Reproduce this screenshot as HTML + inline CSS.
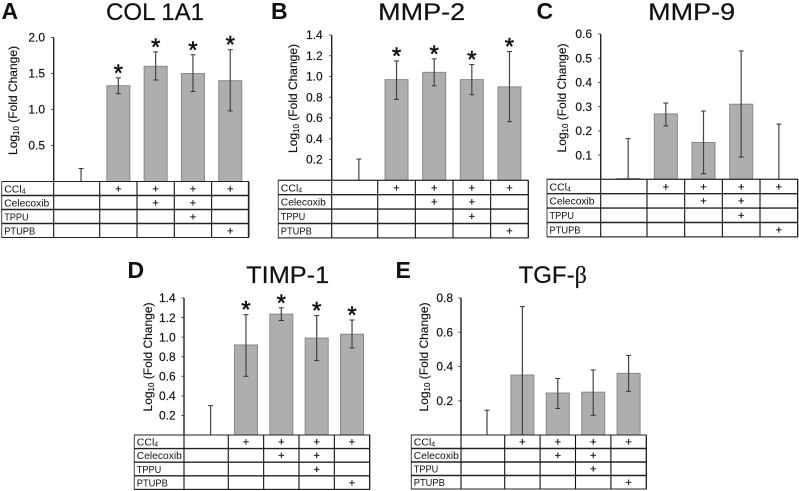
<!DOCTYPE html>
<html lang="en">
<head>
<meta charset="utf-8">
<title>Log10 fold change panels</title>
<style>
html,body{margin:0;padding:0;background:#fff;}
svg{display:block;font-family:"Liberation Sans",Arial,sans-serif;filter:blur(0.3px);}
</style>
</head>
<body>
<svg id="figure" xmlns="http://www.w3.org/2000/svg" width="799" height="491" viewBox="0 0 799 491">
  <rect width="799" height="491" fill="#fff"/>
  <text x="1.5" y="19" font-size="23" font-weight="bold" fill="#111">A</text>
  <text x="271" y="19" font-size="23" font-weight="bold" fill="#111">B</text>
  <text x="536.5" y="19" font-size="23" font-weight="bold" fill="#111">C</text>
  <text x="127.5" y="278" font-size="23" font-weight="bold" fill="#111">D</text>
  <text x="395.5" y="278" font-size="23" font-weight="bold" fill="#111">E</text>
  <g stroke="#111" stroke-width="0.2">
  <text x="155" y="20" font-size="24" text-anchor="middle" textLength="98" lengthAdjust="spacingAndGlyphs" fill="#111">COL 1A1</text>
  <text x="421.7" y="20" font-size="24" text-anchor="middle" textLength="87" lengthAdjust="spacingAndGlyphs" fill="#111">MMP-2</text>
  <text x="691.7" y="20" font-size="24" text-anchor="middle" textLength="87" lengthAdjust="spacingAndGlyphs" fill="#111">MMP-9</text>
  <text x="287.7" y="283" font-size="24" text-anchor="middle" textLength="83" lengthAdjust="spacingAndGlyphs" fill="#111">TIMP-1</text>
  <text x="552.7" y="283" font-size="24" text-anchor="middle" fill="#111">TGF-<tspan font-family="'Liberation Serif',serif">β</tspan></text>
  </g>
</svg>
<script>
// Shared row labels and which treatments each group received
const treatmentRows = ['CCl', 'Celecoxib', 'TPPU', 'PTUPB'];
const ccl4Marks = [false, true, true, true, true];
const celecoxibMarks = [false, false, true, true, false];
const tppuMarks = [false, false, false, true, false];
const ptupbMarks = [false, false, false, false, true];

// Panel A: COL 1A1
const colTicks = ['0.5', '1.0', '1.5', '2.0'];
const colValues = [0, 1.33, 1.6, 1.5, 1.4];
const colUpper = [0.18, 1.44, 1.8, 1.76, 1.83];
const colLower = [0, 1.22, 1.41, 1.25, 0.98];
const colStars = [false, true, true, true, true];

// Panel B: MMP-2
const mmp2Ticks = ['0.2', '0.4', '0.6', '0.8', '1.0', '1.2', '1.4'];
const mmp2Values = [0, 0.97, 1.04, 0.97, 0.9];
const mmp2Upper = [0.205, 1.15, 1.17, 1.115, 1.24];
const mmp2Lower = [0, 0.78, 0.91, 0.825, 0.565];
const mmp2Stars = [false, true, true, true, true];

// Panel C: MMP-9
const mmp9Ticks = ['0.1', '0.2', '0.3', '0.4', '0.5', '0.6'];
const mmp9Values = [0.003, 0.27, 0.152, 0.31, 0];
const mmp9Upper = [0.168, 0.315, 0.282, 0.53, 0.228];
const mmp9Lower = [0, 0.22, 0.023, 0.092, 0];
const mmp9Stars = [false, false, false, false, false];

// Panel D: TIMP-1
const timpTicks = ['0.2', '0.4', '0.6', '0.8', '1.0', '1.2', '1.4'];
const timpValues = [0, 0.92, 1.235, 0.99, 1.03];
const timpUpper = [0.3, 1.23, 1.3, 1.22, 1.175];
const timpLower = [0, 0.6, 1.17, 0.76, 0.89];
const timpStars = [false, true, true, true, true];

// Panel E: TGF-beta
const tgfTicks = ['0.2', '0.4', '0.6', '0.8'];
const tgfValues = [0, 0.35, 0.245, 0.25, 0.36];
const tgfUpper = [0.145, 0.75, 0.33, 0.38, 0.465];
const tgfLower = [0, 0, 0.155, 0.115, 0.255];
const tgfStars = [false, false, false, false, false];

const SVGNS = 'http://www.w3.org/2000/svg';
const figure = document.getElementById('figure');

function make(tag, attrs, parent) {
  const node = document.createElementNS(SVGNS, tag);
  Object.keys(attrs).forEach(function (k) { node.setAttribute(k, attrs[k]); });
  parent.appendChild(node);
  return node;
}

function drawPanel(p) {
  const g = make('g', {}, figure);
  
  

  const maxValue = parseFloat(p.ticks[p.ticks.length - 1]);
  const yScale = function (v) { return p.baseY - (v / maxValue) * (p.baseY - p.topY); };
  const xScale = function (i) { return p.firstCol + p.band * (i - 0.5); };

  // Bars
  p.values.forEach(function (v, i) {
    const bar = make('rect', {
      x: xScale(i) - 11.5, y: yScale(v), width: 23, height: p.baseY - yScale(v),
      fill: '#aeaeae', stroke: '#888', 'stroke-width': 1
    }, g);
    
    
  });

  // Error bars
  p.values.forEach(function (v, i) {
    const cx = xScale(i);
    const stem = make('line', {
      x1: cx, x2: cx, y1: yScale(p.upper[i]), y2: yScale(p.lower[i]),
      stroke: '#444', 'stroke-width': 1.2
    }, g);
    
    
    [p.upper[i], p.lower[i]].forEach(function (e) {
      const cap = make('line', {
        x1: cx - 2.5, x2: cx + 2.5, y1: yScale(e), y2: yScale(e),
        stroke: '#333', 'stroke-width': 1
      }, g);
      
      
    });
    if (p.stars[i]) {
      const star = make('text', {
        x: cx, y: yScale(p.upper[i]) + 3, 'font-size': 24,
        'text-anchor': 'middle', fill: '#111', stroke: '#111', 'stroke-width': 0.5
      }, g);
      
      
      star.textContent = '*';
    }
  });

  // Y axis
  const axis = make('line', {
    x1: p.axisX, x2: p.axisX, y1: p.topY, y2: p.baseY,
    stroke: '#222', 'stroke-width': 1.4
  }, g);
  
  

  p.ticks.forEach(function (label) {
    const y = yScale(parseFloat(label));
    const tick = make('line', {
      x1: p.axisX - 2.5, x2: p.axisX, y1: y, y2: y, stroke: '#444', 'stroke-width': 1
    }, g);
    
    
    const tickLabel = make('text', {
      x: p.labelX, y: y + 4.2, 'font-size': 12, 'text-anchor': 'end', fill: '#111',
      stroke: '#111', 'stroke-width': 0.15
    }, g);
    
    
    tickLabel.textContent = label;
  });

  // Y axis title
  const midY = (p.titleTop + p.titleBottom) / 2;
  const yTitle = make('text', {
    x: 0, y: 0, 'font-size': 12, 'text-anchor': 'middle', fill: '#111',
    stroke: '#111', 'stroke-width': 0.15,
    transform: 'translate(' + p.titleX + ' ' + midY + ') rotate(-90)'
  }, g);
  
  
  make('tspan', {}, yTitle).textContent = 'Log';
  make('tspan', { 'font-size': 8, dy: 2 }, yTitle).textContent = '10';
  make('tspan', { dy: -2 }, yTitle).textContent = ' (Fold Change)';

  // Treatment table
  const rowsTotal = treatmentRows.length;
  const bottom = p.baseY + p.rowH * rowsTotal;
  const tableBg = make('rect', {
    x: p.tableLeft, y: p.baseY, width: p.right - p.tableLeft, height: bottom - p.baseY,
    fill: '#fff', stroke: '#444', 'stroke-width': 1
  }, g);
  
  

  for (let r = 0; r <= rowsTotal; r++) {
    const rule = make('line', {
      x1: p.tableLeft, x2: p.right, y1: p.baseY + p.rowH * r, y2: p.baseY + p.rowH * r,
      stroke: '#222', 'stroke-width': (r === 0 || r === rowsTotal) ? 1 : 1.4
    }, g);
    
    
  }
  const colEdges = [p.axisX];
  for (let c = 0; c < p.values.length; c++) colEdges.push(p.firstCol + p.band * c);
  colEdges.forEach(function (cx) {
    const rule = make('line', {
      x1: cx, x2: cx, y1: p.baseY, y2: bottom, stroke: '#111', 'stroke-width': 1.1
    }, g);
    
    
  });

  const markRows = [ccl4Marks, celecoxibMarks, tppuMarks, ptupbMarks];
  const labelFit = { 'Celecoxib': 45, 'TPPU': 24.5, 'PTUPB': 31 };
  treatmentRows.forEach(function (name, r) {
    const rowY = p.baseY + p.rowH * r + p.rowH / 2 + 3.8;
    const rowLabel = make('text', {
      x: p.tableLeft + 2.5, y: rowY, 'font-size': 10.5, fill: '#111'
    }, g);
    if (labelFit[name]) {
      rowLabel.setAttribute('textLength', labelFit[name]);
      rowLabel.setAttribute('lengthAdjust', 'spacingAndGlyphs');
    }
    
    
    make('tspan', {}, rowLabel).textContent = name;
    if (name === 'CCl') make('tspan', { 'font-size': 7, dy: 1 }, rowLabel).textContent = '4';
    markRows[r].forEach(function (on, i) {
      if (!on) return;
      const plus = make('text', {
        x: xScale(i), y: rowY, 'font-size': 11, 'text-anchor': 'middle', fill: '#111',
        stroke: '#111', 'stroke-width': 0.2
      }, g);
      
      
      plus.textContent = '+';
    });
  });
}

drawPanel({ id: 'col-1a1', ticks: colTicks, values: colValues, upper: colUpper, lower: colLower, stars: colStars,
  axisX: 53.7, firstCol: 99.7, band: 37.3, right: 248.3, tableLeft: 1.7, baseY: 181.5, topY: 37.5, rowH: 14,
  labelX: 45, titleX: 17, titleTop: 45, titleBottom: 156 });
drawPanel({ id: 'mmp-2', ticks: mmp2Ticks, values: mmp2Values, upper: mmp2Upper, lower: mmp2Lower, stars: mmp2Stars,
  axisX: 331.7, firstCol: 377.7, band: 37.65, right: 528.3, tableLeft: 278.3, baseY: 180.3, topY: 35, rowH: 14.4,
  labelX: 322.7, titleX: 297, titleTop: 43, titleBottom: 154 });
drawPanel({ id: 'mmp-9', ticks: mmp9Ticks, values: mmp9Values, upper: mmp9Upper, lower: mmp9Lower, stars: mmp9Stars,
  axisX: 600.7, firstCol: 647, band: 37.67, right: 797.7, tableLeft: 547, baseY: 179.3, topY: 34, rowH: 14.4,
  labelX: 592, titleX: 566, titleTop: 42, titleBottom: 154 });
drawPanel({ id: 'timp-1', ticks: timpTicks, values: timpValues, upper: timpUpper, lower: timpLower, stars: timpStars,
  axisX: 184, firstCol: 228.3, band: 35.35, right: 369.7, tableLeft: 134.3, baseY: 435, topY: 298, rowH: 13.6,
  labelX: 175.7, titleX: 152, titleTop: 303, titleBottom: 411 });
drawPanel({ id: 'tgf-beta', ticks: tgfTicks, values: tgfValues, upper: tgfUpper, lower: tgfLower, stars: tgfStars,
  axisX: 461, firstCol: 504.7, band: 35.4, right: 646.3, tableLeft: 411.3, baseY: 435, topY: 298, rowH: 13.5,
  labelX: 453, titleX: 428, titleTop: 303, titleBottom: 411 });
</script>
</body>
</html>
